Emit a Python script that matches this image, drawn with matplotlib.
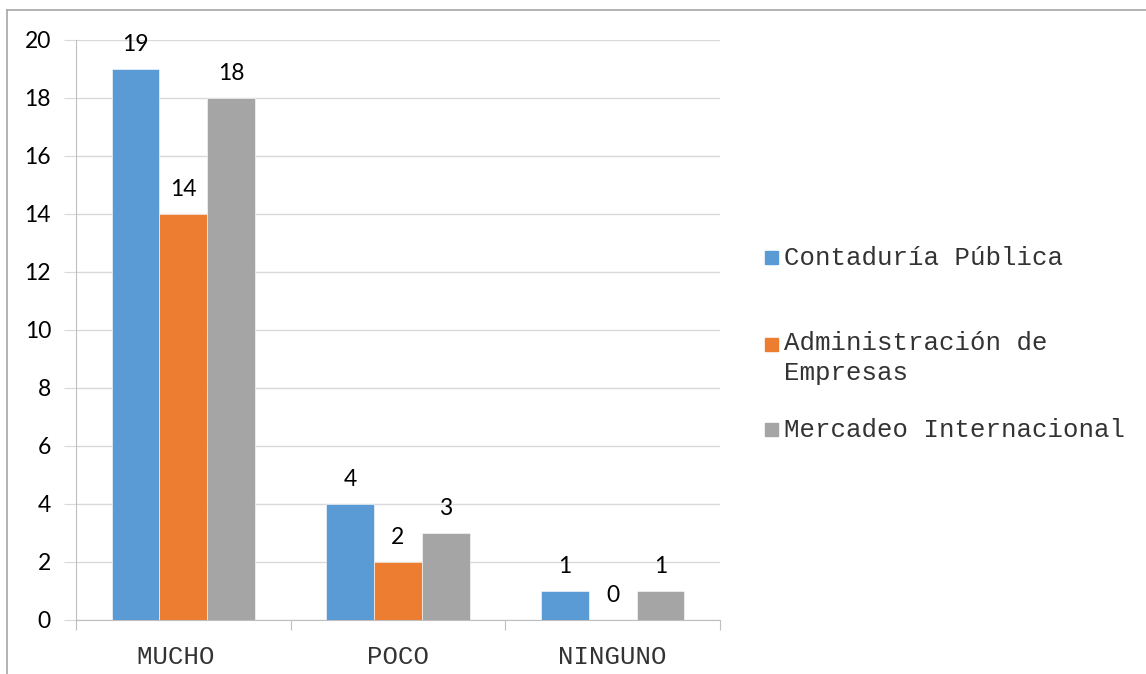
import numpy as np
import matplotlib.pyplot as plt
from matplotlib.patches import Rectangle
from matplotlib.lines import Line2D

categorias = ["MUCHO ", "POCO", "NINGUNO"]
series = ["Contaduría Pública", "Administración de\nEmpresas", "Mercadeo Internacional"]
contaduria = [19, 4, 1]
administracion = [14, 2, 0]
mercadeo = [18, 3, 1]
colores = ["#5B9BD5", "#ED7D31", "#A5A5A5"]

W, H = 1146, 674
fig = plt.figure(figsize=(W / 100, H / 100), dpi=100)
ax = fig.add_axes([76 / W, 1 - 620 / H, (720 - 76) / W, (620 - 40) / H])

x = np.arange(len(categorias))
ancho = 0.223
for i, vals in enumerate([contaduria, administracion, mercadeo]):
    barras = ax.bar(x + (i - 1) * ancho, vals, ancho, color=colores[i],
                    edgecolor="white", linewidth=0.4, zorder=3)
    for b, v in zip(barras, vals):
        ax.annotate(str(v), (b.get_x() + b.get_width() / 2, v),
                    xytext=(0, 10), textcoords="offset points",
                    ha="center", va="bottom", fontsize=16.5, family="Lato")

ax.set_xlim(-0.5, 2.5)
ax.set_ylim(0, 20)
ax.set_yticks(range(0, 21, 2))
ax.yaxis.grid(True, color="#D9D9D9", linewidth=1, zorder=0)
ax.tick_params(axis="y", length=9, color="#D9D9D9", labelsize=16.5, pad=9)
for t in ax.get_yticklabels():
    t.set_family("Lato")

ax.set_xticks(np.arange(-0.5, 3, 1), minor=False)
ax.set_xticklabels([])
ax.set_xticks(x, minor=True)
ax.set_xticklabels(categorias, minor=True, family="Liberation Mono", fontsize=18.5,
                   color="#333333")
ax.tick_params(axis="x", which="major", length=7, color="#BFBFBF")
ax.tick_params(axis="x", which="minor", length=0, pad=18)

for s in ["top", "right"]:
    ax.spines[s].set_visible(False)
ax.spines["left"].set_color("#BFBFBF")
ax.spines["bottom"].set_color("#BFBFBF")

# legend drawn by hand
leg_y = [258, 345, 430]
for c, lab, yy in zip(colores, series, leg_y):
    fig.patches.append(Rectangle((765 / W, 1 - (yy + 6) / H), 13 / W, 13 / H,
                                 transform=fig.transFigure, color=c))
    fig.text(784 / W, 1 - yy / H, lab, family="Liberation Mono", fontsize=18.5,
             va="top" if "\n" in lab else "center", ha="left", color="#333333",
             linespacing=1.3)
# two-line label is top-anchored
fig.texts[1].set_y(1 - (345 - 14) / H)

# frame
fig.lines.append(Line2D([7 / W, 1], [1 - 10 / H] * 2, transform=fig.transFigure,
                        color="#A6A6A6", linewidth=1.2))
fig.lines.append(Line2D([7 / W] * 2, [0, 1 - 10 / H], transform=fig.transFigure,
                        color="#A6A6A6", linewidth=1.2))

fig.savefig("out.png", dpi=100)
